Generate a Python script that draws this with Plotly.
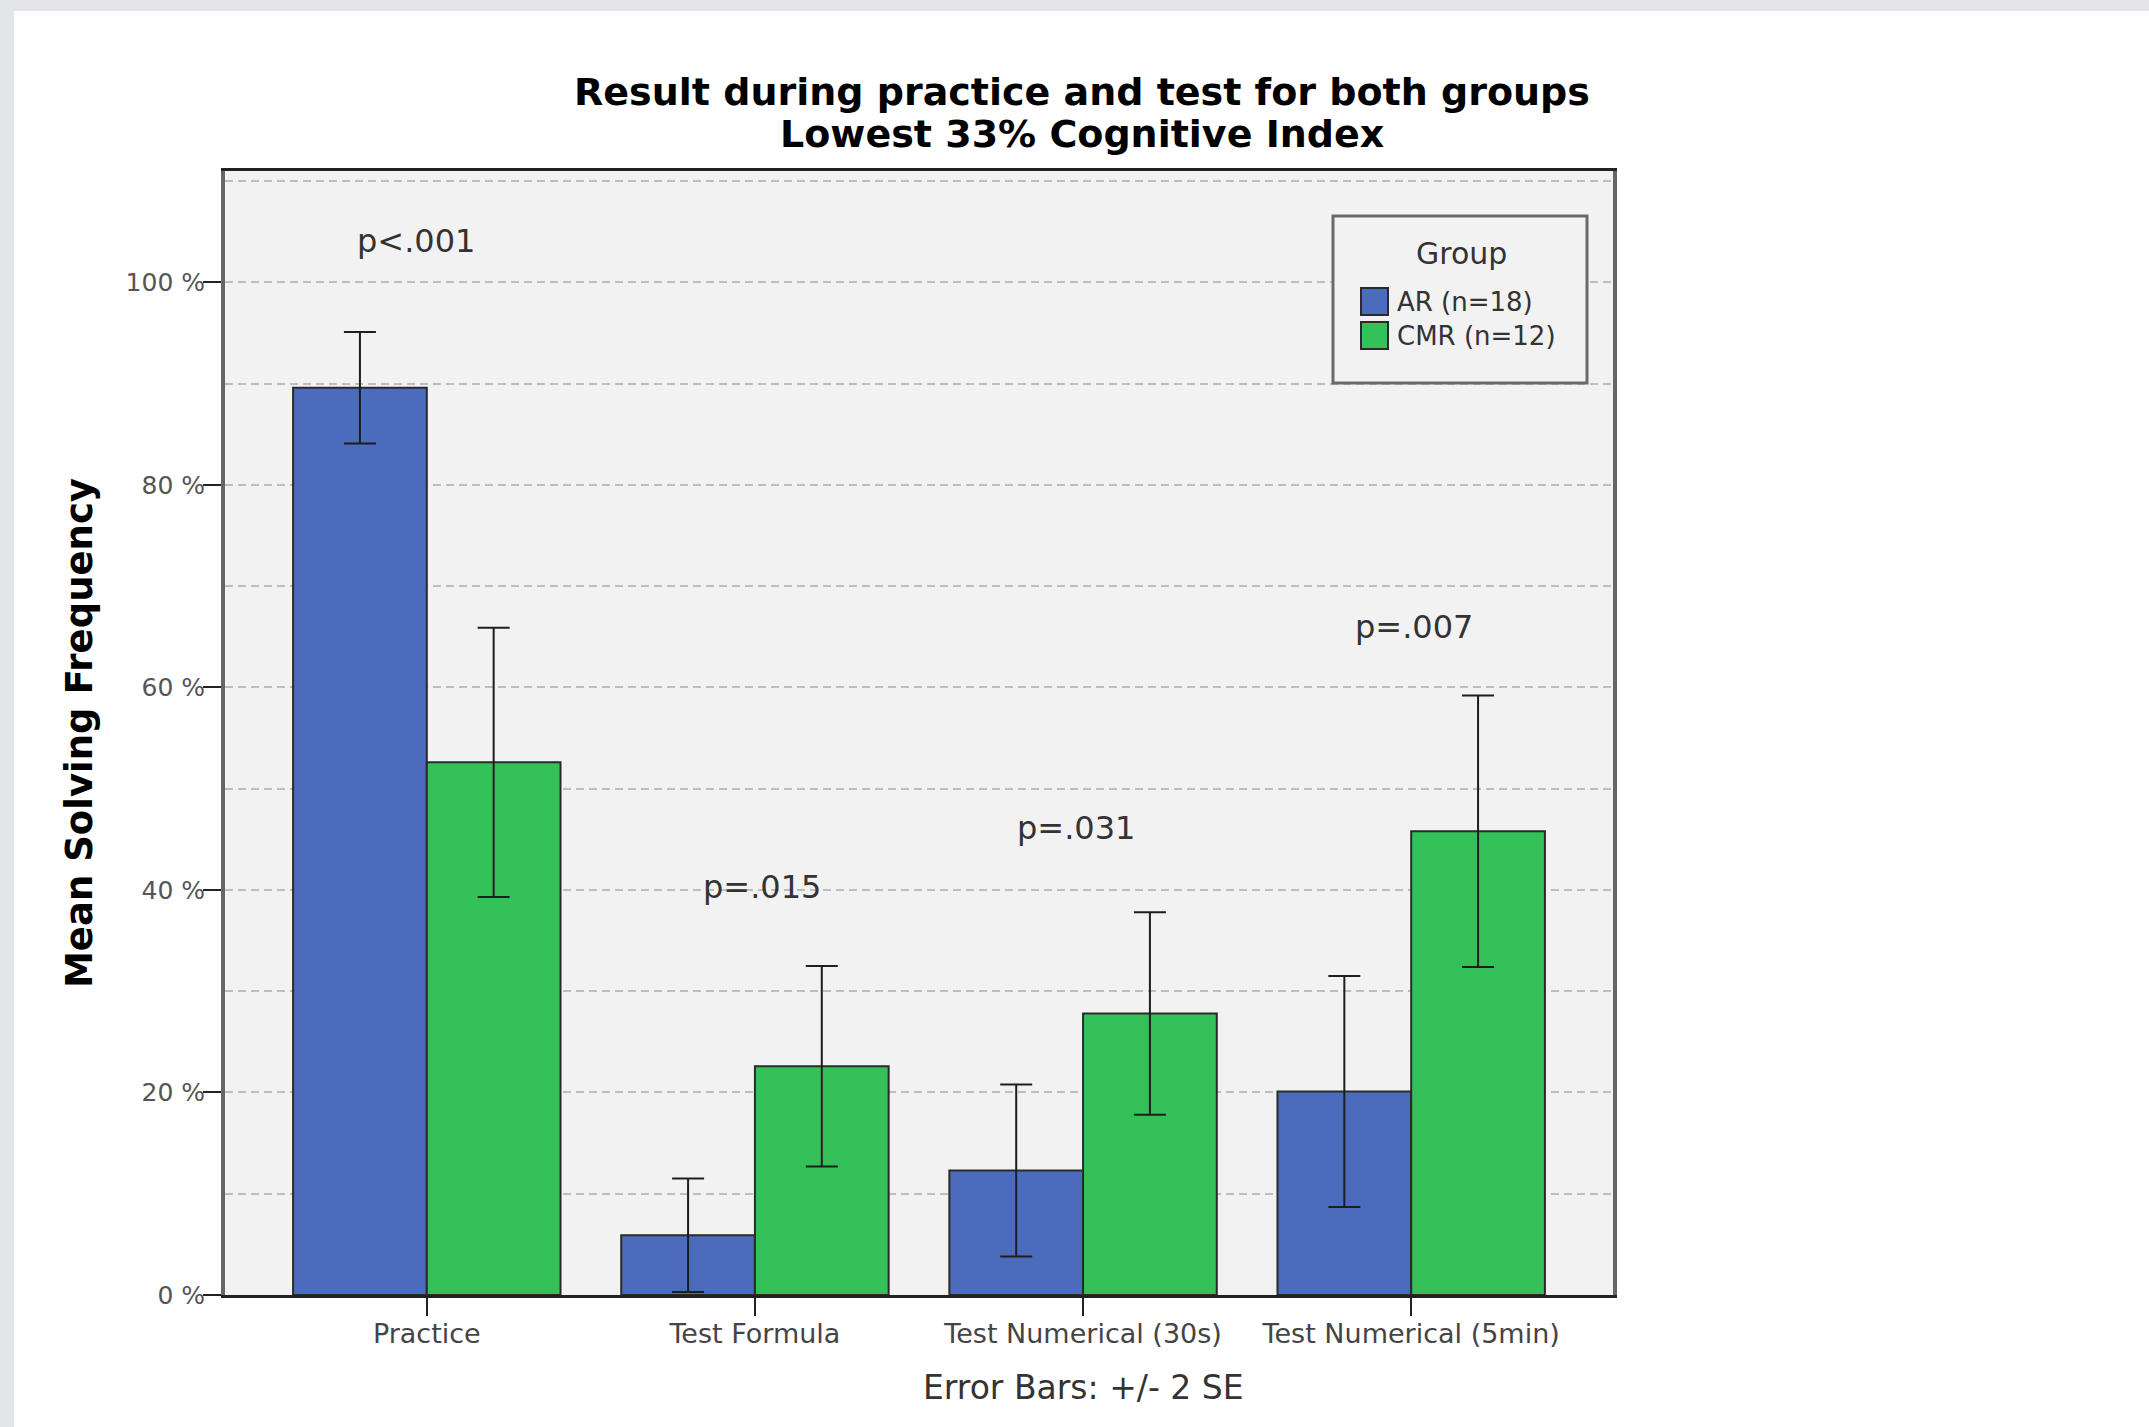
import plotly.graph_objects as go

# ---- data -------------------------------------------------------------
categories = ["Practice", "Test Formula", "Test Numerical (30s)", "Test Numerical (5min)"]
group_names = ["AR (n=18)", "CMR (n=12)"]
ar_mean = [89.6, 5.9, 12.3, 20.1]
ar_err = [5.5, 5.6, 8.5, 11.4]          # 2 SE
cmr_mean = [52.6, 22.6, 27.8, 45.8]
cmr_err = [13.3, 9.9, 10.0, 13.4]       # 2 SE
p_labels = ["p<.001", "p=.015", "p=.031", "p=.007"]
p_label_y = [104.1, 40.3, 46.1, 66.0]
y_ticks = [0, 20, 40, 60, 80, 100]

# ---- styling ----------------------------------------------------------
W, H = 2149, 1427
PL, PR, PT, PB = 225, 1613, 171, 1295      # plot area edges in px
FONT = "DejaVu Sans"
BLUE, GREEN = "#4B6CBC", "#34C15A"
PLOT_BG = "#F2F2F2"
P_LABEL_XSHIFT = [-11, 7, -7, 3]           # small nudges for the p-value text


def px_x(px):
    return (px - PL) / (PR - PL)


def px_y(py):
    return (PB - py) / (PB - PT)


fig = go.Figure()
for name, mean, err, col in [
    (group_names[0], ar_mean, ar_err, BLUE),
    (group_names[1], cmr_mean, cmr_err, GREEN),
]:
    fig.add_trace(go.Bar(
        x=categories, y=mean, name=name,
        marker=dict(color=col, line=dict(color="#2A2A2A", width=2)),
        error_y=dict(type="data", array=err, symmetric=True,
                     color="#1E1E1E", thickness=2, width=16),
        showlegend=False,
    ))

# p-value labels above each category
for cat, lab, yv, dx in zip(categories, p_labels, p_label_y, P_LABEL_XSHIFT):
    fig.add_annotation(x=cat, y=yv, xref="x", yref="y", text=lab, xshift=dx,
                       showarrow=False, font=dict(family=FONT, size=32, color="#333333"))

shapes = []
# light frame strips at top and left edges of the page
shapes.append(dict(type="rect", xref="paper", yref="paper", layer="below",
                   x0=px_x(0), x1=px_x(W), y0=px_y(11), y1=px_y(0),
                   fillcolor="#E4E5E9", line=dict(width=0)))
shapes.append(dict(type="rect", xref="paper", yref="paper", layer="below",
                   x0=px_x(0), x1=px_x(14), y0=px_y(H), y1=px_y(0),
                   fillcolor="#E4E5E9", line=dict(width=0)))

# legend box
shapes.append(dict(type="rect", xref="paper", yref="paper", layer="above",
                   x0=px_x(1333), x1=px_x(1587), y0=px_y(383), y1=px_y(216),
                   fillcolor=PLOT_BG, line=dict(color="#6A6A6A", width=3)))
for i, col in enumerate([BLUE, GREEN]):
    top = 288 + i * 34
    shapes.append(dict(type="rect", xref="paper", yref="paper", layer="above",
                       x0=px_x(1361), x1=px_x(1388), y0=px_y(top + 27), y1=px_y(top),
                       fillcolor=col, line=dict(color="#2A2A2A", width=2)))
    fig.add_annotation(xref="paper", yref="paper", x=px_x(1395), y=px_y(top + 14),
                       xanchor="left", yanchor="middle", text=group_names[i],
                       showarrow=False, font=dict(family=FONT, size=26, color="#333333"))
fig.add_annotation(xref="paper", yref="paper", x=px_x(1461), y=px_y(253),
                   xanchor="center", yanchor="middle", text="Group", showarrow=False,
                   font=dict(family=FONT, size=30, color="#333333"))

# second title line
fig.add_annotation(xref="paper", yref="paper", x=px_x(1082), y=px_y(134),
                   xanchor="center", yanchor="middle", text="Lowest 33% Cognitive Index",
                   showarrow=False, font=dict(family=FONT, size=38, color="#000000", weight="bold"))
# footnote below the axis
fig.add_annotation(xref="paper", yref="paper", x=px_x(1083), y=px_y(1387),
                   xanchor="center", yanchor="middle", text="Error Bars: +/- 2 SE",
                   showarrow=False, font=dict(family=FONT, size=33, color="#333333"))

fig.update_layout(
    width=W, height=H,
    margin=dict(l=PL, r=W - PR, t=PT, b=H - PB, pad=0),
    paper_bgcolor="white", plot_bgcolor=PLOT_BG,
    barmode="group", bargap=0.185, bargroupgap=0,
    shapes=shapes,
    title=dict(text="Result during practice and test for both groups",
               x=1082 / W, xanchor="center",
               y=1 - 92 / H, yanchor="middle",
               font=dict(family=FONT, size=38, color="#000000", weight="bold")),
    font=dict(family=FONT),
)

fig.update_xaxes(
    range=[-0.615, 3.615], showgrid=False, zeroline=False,
    showline=True, linecolor="#222222", linewidth=3, mirror=True,
    ticks="outside", ticklen=18, tickwidth=2, tickcolor="#222222",
    tickfont=dict(family=FONT, size=27, color="#444444"),
    ticklabelstandoff=-5,
)
fig.update_yaxes(
    range=[0, 111.0], tickvals=y_ticks, ticktext=[f"{v} %" for v in y_ticks],
    showline=True, linecolor="#666666", linewidth=4, mirror=True,
    ticks="outside", ticklen=18, tickwidth=2, tickcolor="#222222",
    tickfont=dict(family=FONT, size=25, color="#555555"),
    ticklabelstandoff=-7,
    showgrid=True, gridcolor="#BDBDBD", gridwidth=1.5, griddash="8px,5px",
    zeroline=False,
    minor=dict(dtick=10, tick0=0, showgrid=True, gridcolor="#BDBDBD",
               gridwidth=1.5, griddash="8px,5px", ticks=""),
    title=dict(text="<b>Mean Solving Frequency</b>", standoff=23,
               font=dict(family=FONT, size=37, color="#000000")),
)

fig.write_html("out.html")
